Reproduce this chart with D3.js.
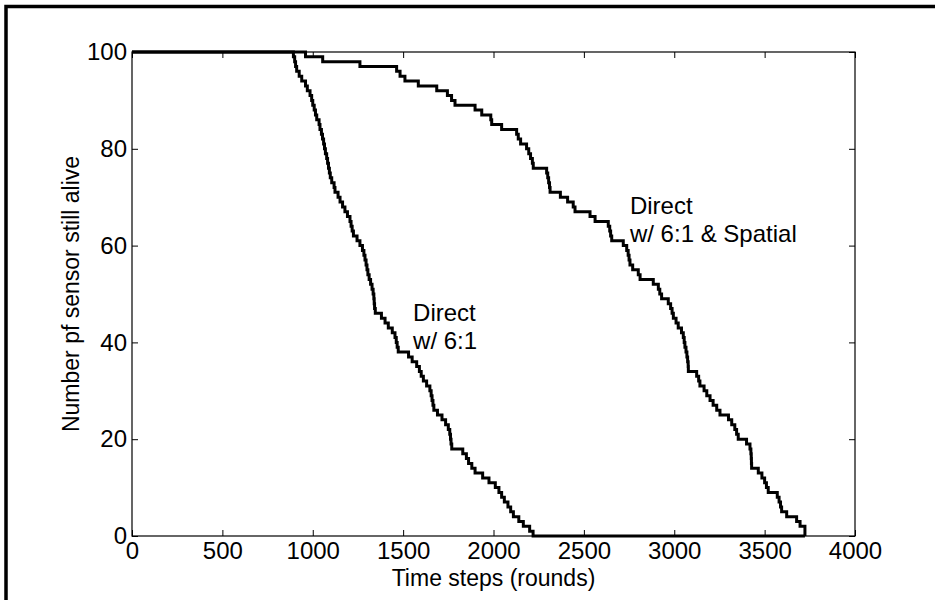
<!DOCTYPE html>
<html>
<head>
<meta charset="utf-8">
<script src="https://cdn.jsdelivr.net/npm/d3@7"></script>
<style>
  body { margin: 0; background: #fff; }
  svg text { font-family: "Liberation Sans", Arial, sans-serif; fill: #000; }
</style>
</head>
<body>
<svg id="chart" width="935" height="600"></svg>
<script>
// Direct w/ 6:1  (round at which the alive count drops to the value)
const time1 = [0, 893, 900, 905, 911, 925, 939, 960, 970, 985, 994, 1000, 1008, 1015, 1022, 1035, 1040, 1048, 1054, 1060,
  1065, 1070, 1077, 1082, 1087, 1092, 1097, 1105, 1118, 1123, 1140, 1151, 1165, 1178, 1192, 1206, 1212, 1218, 1225, 1245,
  1261, 1275, 1283, 1289, 1295, 1300, 1305, 1312, 1320, 1328, 1334, 1338, 1340, 1342, 1346, 1380, 1400, 1418, 1440, 1455,
  1462, 1467, 1473, 1530, 1550, 1575, 1590, 1600, 1612, 1630, 1648, 1655, 1660, 1665, 1670, 1690, 1715, 1735, 1750, 1758,
  1762, 1765, 1769, 1830, 1850, 1862, 1880, 1898, 1940, 1975, 2010, 2030, 2045, 2060, 2080, 2095, 2110, 2140, 2165, 2200,
  2219, 3723];
const alive1 = [100, 99, 98, 97, 96, 95, 94, 93, 92, 91, 90, 89, 88, 87, 86, 85, 84, 83, 82, 81,
  80, 79, 78, 77, 76, 75, 74, 73, 72, 71, 70, 69, 68, 67, 66, 65, 64, 63, 62, 61,
  60, 59, 58, 57, 56, 55, 54, 53, 52, 51, 50, 49, 48, 47, 46, 45, 44, 43, 42, 41,
  40, 39, 38, 37, 36, 35, 34, 33, 32, 31, 30, 29, 28, 27, 26, 25, 24, 23, 22, 21,
  20, 19, 18, 17, 16, 15, 14, 13, 12, 11, 10, 9, 8, 7, 6, 5, 4, 3, 2, 1,
  0, 0];

// Direct w/ 6:1 & Spatial
const time2 = [0, 960, 1055, 1261, 1464, 1483, 1510, 1584, 1686, 1745, 1768, 1787, 1898, 1935, 1985, 1990, 2045, 2128, 2137, 2150,
  2183, 2195, 2205, 2215, 2220, 2294, 2300, 2305, 2310, 2313, 2370, 2410, 2441, 2451, 2534, 2562, 2635, 2643, 2648, 2654,
  2718, 2737, 2745, 2750, 2755, 2770, 2801, 2811, 2884, 2912, 2920, 2930, 2967, 2980, 2988, 2995, 3010, 3022, 3040, 3050,
  3055, 3059, 3065, 3070, 3074, 3077, 3078, 3124, 3135, 3142, 3165, 3180, 3198, 3215, 3235, 3253, 3300, 3318, 3335, 3345,
  3354, 3400, 3419, 3424, 3426, 3427, 3428, 3465, 3485, 3500, 3510, 3520, 3570, 3580, 3588, 3594, 3622, 3677, 3696, 3723];
const alive2 = [100, 99, 98, 97, 96, 95, 94, 93, 92, 91, 90, 89, 88, 87, 86, 85, 84, 83, 82, 81,
  80, 79, 78, 77, 76, 75, 74, 73, 72, 71, 70, 69, 68, 67, 66, 65, 64, 63, 62, 61,
  60, 59, 58, 57, 56, 55, 54, 53, 52, 51, 50, 49, 48, 47, 46, 45, 44, 43, 42, 41,
  40, 39, 38, 37, 36, 35, 34, 33, 32, 31, 30, 29, 28, 27, 26, 25, 24, 23, 22, 21,
  20, 19, 18, 17, 16, 15, 14, 13, 12, 11, 10, 9, 8, 7, 6, 5, 4, 3, 2, 0];

const xTicks = [0, 500, 1000, 1500, 2000, 2500, 3000, 3500, 4000];
const yTicks = [0, 20, 40, 60, 80, 100];

const labels = [
  { lines: ["Direct", "w/ 6:1"], t: 1555, v: 44.5 },
  { lines: ["Direct", "w/ 6:1 & Spatial"], t: 2755, v: 66.5 }
];

const FONT = 24;
const mLeft = 132, mRight = 855, mTop = 52, mBottom = 536;

const svg = d3.select("#chart");

// outer frame of the exported figure (right and bottom edges are cut off)
svg.append("rect")
  .attr("x", 6).attr("y", 6.5)
  .attr("width", 1000).attr("height", 700)
  .attr("fill", "none")
  .attr("stroke", "#000")
  .attr("stroke-width", 3.5);

const x = d3.scaleLinear().domain([0, 4000]).range([mLeft, mRight]);
const y = d3.scaleLinear().domain([0, 100]).range([mBottom, mTop]);

function styleAxis(g) {
  g.select(".domain").remove();
  g.selectAll(".tick line").attr("stroke", "#000");
  g.selectAll(".tick text")
    .attr("font-size", FONT)
    .attr("font-family", "Liberation Sans, Arial, sans-serif")
    .attr("fill", "#000");
}

svg.append("g")
  .attr("transform", `translate(0,${mBottom})`)
  .call(d3.axisBottom(x).tickValues(xTicks).tickSizeInner(-6).tickSizeOuter(0).tickPadding(6).tickFormat(d3.format("d")))
  .call(styleAxis);

svg.append("g")
  .attr("transform", `translate(0,${mTop})`)
  .call(d3.axisTop(x).tickValues(xTicks).tickSizeInner(-6).tickSizeOuter(0).tickFormat(""))
  .call(styleAxis);

svg.append("g")
  .attr("transform", `translate(${mLeft},0)`)
  .call(d3.axisLeft(y).tickValues(yTicks).tickSizeInner(-6).tickSizeOuter(0).tickPadding(5).tickFormat(d3.format("d")))
  .call(styleAxis);

svg.append("g")
  .attr("transform", `translate(${mRight},0)`)
  .call(d3.axisRight(y).tickValues(yTicks).tickSizeInner(-6).tickSizeOuter(0).tickFormat(""))
  .call(styleAxis);

// axes box
svg.append("rect")
  .attr("x", mLeft).attr("y", mTop)
  .attr("width", mRight - mLeft).attr("height", mBottom - mTop)
  .attr("fill", "none")
  .attr("stroke", "#000")
  .attr("stroke-width", 1.2);

const line = d3.line()
  .x(d => x(d[0]))
  .y(d => y(d[1]))
  .curve(d3.curveStepAfter);

const series = [
  d3.zip(time1, alive1),
  d3.zip(time2, alive2)
];

svg.selectAll(".series")
  .data(series)
  .enter()
  .append("path")
  .attr("class", "series")
  .attr("d", line)
  .attr("fill", "none")
  .attr("stroke", "#000")
  .attr("stroke-width", 3);

// in-plot text labels
labels.forEach(l => {
  const t = svg.append("text")
    .attr("x", x(l.t))
    .attr("y", y(l.v))
    .attr("font-size", FONT);
  l.lines.forEach((s, i) => {
    t.append("tspan")
      .attr("x", x(l.t))
      .attr("dy", i === 0 ? 0 : 28)
      .text(s);
  });
});

// axis titles
svg.append("text")
  .attr("x", (mLeft + mRight) / 2)
  .attr("y", 586)
  .attr("text-anchor", "middle")
  .attr("font-size", 23)
  .text("Time steps (rounds)");

svg.append("text")
  .attr("transform", `translate(79,${(mTop + mBottom) / 2}) rotate(-90)`)
  .attr("text-anchor", "middle")
  .attr("font-size", 23)
  .text("Number pf sensor still alive");
</script>
</body>
</html>
